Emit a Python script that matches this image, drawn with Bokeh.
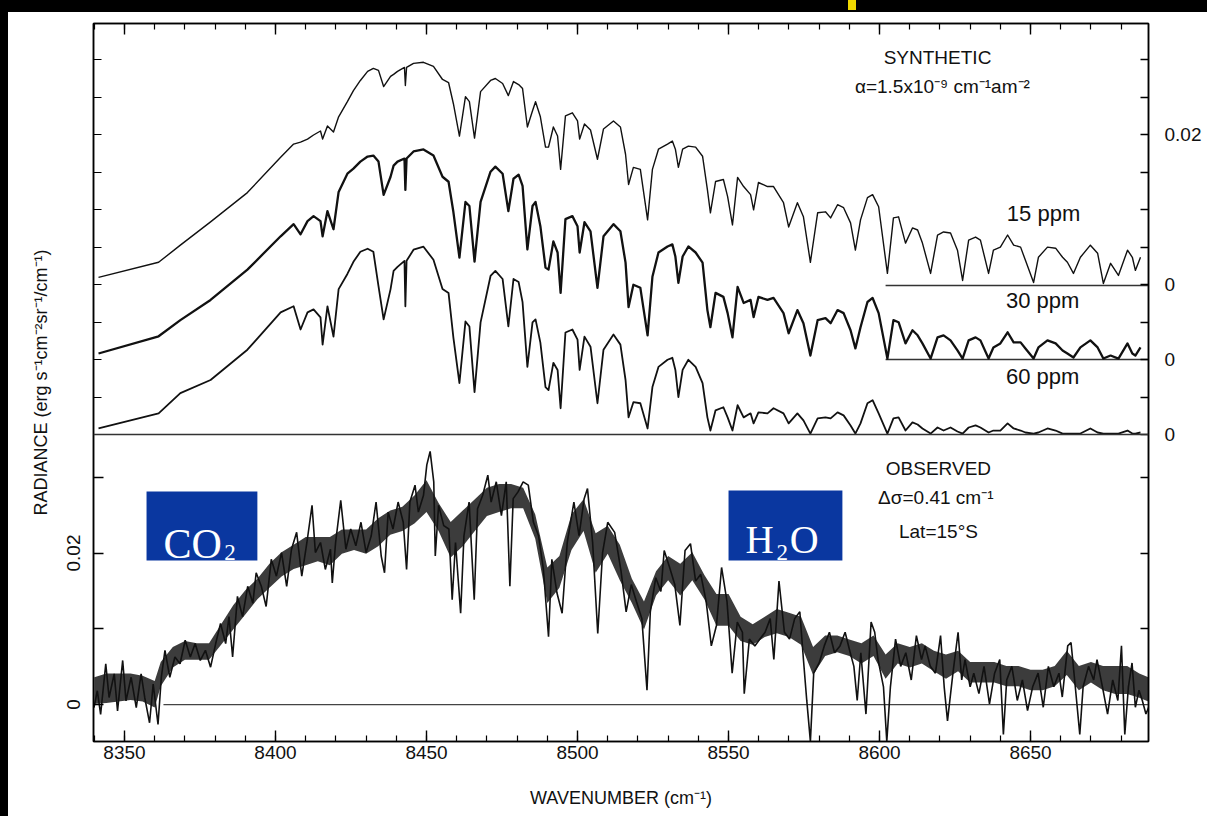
from bokeh.plotting import figure
from bokeh.models import Range1d, LinearAxis, FixedTicker, Span, Label, BoxAnnotation
from bokeh.embed import file_html
from bokeh.resources import INLINE

# ---------------- data ----------------
# wavenumber grid (cm^-1) of the three synthetic spectra
syn_wavenumber = [8341.4, 8361.3, 8368.5, 8378.5, 8390.7, 8401.7, 8406.0, 8408.3, 8410.6, 8412.6,
                  8414.9, 8415.6, 8417.2, 8419.2, 8420.9, 8423.8, 8425.8, 8428.1, 8430.5, 8432.4,
                  8434.1, 8435.8, 8438.1, 8439.1, 8440.4, 8442.7, 8443.0, 8443.4, 8445.7, 8449.0,
                  8452.3, 8455.3, 8457.3, 8458.9, 8460.9, 8462.9, 8464.2, 8465.9, 8467.9, 8471.2,
                  8472.8, 8475.2, 8477.1, 8478.8, 8480.5, 8481.8, 8483.4, 8485.1, 8486.1, 8487.7,
                  8489.4, 8490.4, 8492.0, 8493.4, 8494.4, 8496.0, 8498.3, 8500.0, 8500.7, 8502.3,
                  8504.3, 8506.6, 8508.6, 8511.9, 8514.2, 8515.9, 8516.9, 8518.5, 8520.8, 8523.2,
                  8524.8, 8526.8, 8529.8, 8531.4, 8532.4, 8533.4, 8534.8, 8536.7, 8539.1, 8541.4,
                  8543.0, 8544.0, 8545.7, 8548.3, 8549.7, 8551.3, 8553.0, 8555.0, 8557.3, 8558.3,
                  8559.9, 8562.9, 8564.9, 8568.2, 8569.9, 8572.8, 8574.8, 8577.1, 8579.5, 8582.1,
                  8583.8, 8586.1, 8588.1, 8590.4, 8592.0, 8593.7, 8596.0, 8597.7, 8599.7, 8602.6,
                  8604.6, 8606.3, 8608.6, 8610.9, 8612.6, 8614.2, 8616.9, 8619.2, 8621.2, 8623.5,
                  8625.8, 8627.5, 8629.5, 8631.8, 8633.4, 8636.1, 8637.7, 8640.0, 8642.4, 8644.4,
                  8646.7, 8648.3, 8651.0, 8652.6, 8655.6, 8658.3, 8660.6, 8662.2, 8664.2, 8666.5,
                  8669.8, 8672.2, 8674.1, 8676.5, 8679.1, 8682.1, 8683.7, 8684.7, 8686.4]

syn_15ppm = [0.00107, 0.00307, 0.00533, 0.0084, 0.01227, 0.01693, 0.01867, 0.01893, 0.01933, 0.01987,
             0.0204, 0.01933, 0.02107, 0.02027, 0.02227, 0.02427, 0.02573, 0.02707, 0.02827, 0.02867,
             0.0284, 0.02627, 0.0276, 0.02787, 0.02827, 0.0288, 0.0264, 0.0288, 0.02933, 0.02947,
             0.02893, 0.0272, 0.0268, 0.024, 0.01973, 0.02493, 0.02427, 0.01947, 0.0256, 0.02707,
             0.02733, 0.02667, 0.02507, 0.02693, 0.02653, 0.026, 0.02093, 0.02307, 0.02427, 0.02227,
             0.01827, 0.01827, 0.02093, 0.01973, 0.01533, 0.0224, 0.0228, 0.02173, 0.01933, 0.02133,
             0.02053, 0.01667, 0.02067, 0.02173, 0.02093, 0.01733, 0.01333, 0.0156, 0.01533, 0.00867,
             0.01533, 0.018, 0.01867, 0.01907, 0.018, 0.0156, 0.018, 0.0184, 0.01827, 0.01707,
             0.01267, 0.0096, 0.01373, 0.014, 0.01173, 0.008, 0.01427, 0.01307, 0.012, 0.01,
             0.0136, 0.01307, 0.01307, 0.01093, 0.00773, 0.01093, 0.00907, 0.00307, 0.0096, 0.00973,
             0.00893, 0.01067, 0.01027, 0.00827, 0.00467, 0.00867, 0.0116, 0.012, 0.0104, 0.0016,
             0.00893, 0.00907, 0.0056, 0.0076, 0.00733, 0.0056, 0.0016, 0.00667, 0.00707, 0.00693,
             0.00467, 0.00067, 0.006, 0.0064, 0.006, 0.0016, 0.00467, 0.00507, 0.00667, 0.00533,
             0.00507, 0.00333, 0.0004, 0.00373, 0.00507, 0.00493, 0.00373, 0.00307, 0.0016, 0.00373,
             0.00533, 0.00427, 0.00027, 0.00293, 0.00133, 0.00467, 0.00373, 0.002, 0.00373]

syn_30ppm = [0.0008, 0.00307, 0.0052, 0.00787, 0.01187, 0.01627, 0.01787, 0.01653, 0.01827, 0.01893,
             0.01827, 0.01627, 0.0196, 0.0172, 0.02213, 0.02453, 0.0252, 0.02613, 0.0268, 0.02693,
             0.02613, 0.02173, 0.02413, 0.0256, 0.02613, 0.02653, 0.0224, 0.02653, 0.02747, 0.02773,
             0.02693, 0.02413, 0.02347, 0.01947, 0.01347, 0.0208, 0.02027, 0.01293, 0.0208, 0.0248,
             0.02547, 0.02453, 0.0196, 0.02387, 0.0244, 0.02293, 0.01453, 0.02027, 0.0208, 0.0176,
             0.01213, 0.01187, 0.0156, 0.01413, 0.0088, 0.01853, 0.01893, 0.0176, 0.01413, 0.01813,
             0.01693, 0.00947, 0.01627, 0.01787, 0.01693, 0.0128, 0.00693, 0.00987, 0.00947, 0.0032,
             0.01093, 0.01413, 0.01493, 0.0152, 0.0136, 0.01013, 0.0136, 0.01493, 0.01413, 0.0128,
             0.00653, 0.00427, 0.0088, 0.00827, 0.00613, 0.00293, 0.0096, 0.00747, 0.00787, 0.0056,
             0.00827, 0.00787, 0.00813, 0.00613, 0.00347, 0.00653, 0.0048, 0.00053, 0.0052, 0.00547,
             0.0048, 0.00653, 0.00613, 0.00387, 0.00147, 0.00427, 0.0076, 0.00813, 0.00613, 0.00013,
             0.0052, 0.00493, 0.00213, 0.00387, 0.0032, 0.00213, 0.00013, 0.00293, 0.0032, 0.00253,
             0.0012, 0.00013, 0.00253, 0.00293, 0.00253, 0.00013, 0.0016, 0.00213, 0.0036, 0.00227,
             0.00227, 0.00147, 0.00013, 0.0016, 0.00253, 0.00213, 0.0012, 0.0008, 0.00027, 0.0016,
             0.00253, 0.0016, 0.00013, 0.00053, 0.00013, 0.00213, 0.0008, 0.00053, 0.0016]

syn_60ppm = [0.0008, 0.0028, 0.00547, 0.0072, 0.0112, 0.01613, 0.01693, 0.01387, 0.01613, 0.01653,
             0.01547, 0.01187, 0.01693, 0.01293, 0.0192, 0.0212, 0.0228, 0.02413, 0.02453, 0.02413,
             0.0196, 0.0152, 0.0192, 0.0216, 0.02213, 0.02293, 0.01693, 0.02293, 0.0244, 0.0248,
             0.02307, 0.0192, 0.01867, 0.0128, 0.0068, 0.01493, 0.01427, 0.0056, 0.0148, 0.02093,
             0.0216, 0.02053, 0.01427, 0.02053, 0.02013, 0.01747, 0.00893, 0.0148, 0.0152, 0.01213,
             0.00627, 0.00587, 0.00947, 0.00853, 0.00347, 0.01347, 0.01387, 0.01253, 0.00853, 0.01293,
             0.0116, 0.00413, 0.0112, 0.0132, 0.01187, 0.0072, 0.00227, 0.00427, 0.00413, 0.0008,
             0.00627, 0.00893, 0.00987, 0.01013, 0.00853, 0.00493, 0.00853, 0.00987, 0.00893, 0.0068,
             0.00227, 0.00053, 0.0032, 0.0036, 0.00227, 0.00053, 0.00387, 0.00227, 0.0028, 0.00147,
             0.00293, 0.0028, 0.00347, 0.0028, 0.00147, 0.0028, 0.00187, 0.00013, 0.00213, 0.00227,
             0.00213, 0.00293, 0.00253, 0.0012, 0.00013, 0.00147, 0.00413, 0.00453, 0.0028, 0.00013,
             0.00213, 0.00227, 0.00053, 0.0016, 0.00133, 0.0008, 0.00013, 0.00093, 0.00053, 0.00093,
             0.0004, 0.00013, 0.00093, 0.0012, 0.00093, 0.00027, 0.00053, 0.00053, 0.00147, 0.0008,
             0.00053, 0.00027, 0.00013, 0.00027, 0.0008, 0.00053, 0.00013, 0.00013, 0.00013, 0.00013,
             0.0008, 0.00027, 0.00013, 0.00013, 0.00013, 0.00053, 0.00013, 0.00013, 0.00027]

# observed spectrum (individual readings incl. spikes)
obs_wavenumber = [8339.9, 8341.0, 8342.1, 8343.8, 8344.9, 8346.6, 8347.7, 8349.4, 8350.5, 8352.2,
                  8353.9, 8355.5, 8356.7, 8358.3, 8359.5, 8361.1, 8362.2, 8363.4, 8365.0, 8366.7,
                  8368.4, 8370.1, 8371.8, 8373.4, 8375.1, 8376.8, 8378.5, 8380.2, 8381.8, 8383.5,
                  8384.6, 8385.8, 8387.4, 8389.1, 8390.8, 8392.5, 8393.6, 8395.3, 8396.9, 8398.6,
                  8400.3, 8402.0, 8403.7, 8405.3, 8407.0, 8408.7, 8410.4, 8412.1, 8413.2, 8414.9,
                  8416.5, 8418.2, 8418.8, 8419.9, 8421.6, 8423.3, 8424.9, 8426.6, 8428.3, 8430.0,
                  8431.7, 8433.3, 8435.0, 8436.1, 8437.3, 8438.9, 8440.6, 8442.3, 8443.4, 8444.5,
                  8446.2, 8447.3, 8449.0, 8450.1, 8451.2, 8452.4, 8452.9, 8454.0, 8455.7, 8457.4,
                  8458.5, 8459.6, 8461.3, 8462.4, 8464.1, 8465.8, 8466.9, 8468.6, 8470.3, 8471.4,
                  8473.1, 8474.8, 8476.4, 8477.6, 8478.7, 8480.3, 8482.0, 8483.7, 8485.4, 8487.1,
                  8488.7, 8490.4, 8491.5, 8493.2, 8494.9, 8496.6, 8498.8, 8500.5, 8502.2, 8503.3,
                  8505.0, 8506.7, 8508.3, 8510.0, 8512.3, 8514.4, 8516.1, 8517.8, 8519.5, 8521.3,
                  8523.0, 8524.1, 8525.9, 8527.6, 8528.7, 8530.5, 8532.2, 8533.9, 8535.6, 8537.4,
                  8539.1, 8540.8, 8542.6, 8544.3, 8546.0, 8547.7, 8549.5, 8551.2, 8552.9, 8554.6,
                  8555.2, 8556.9, 8558.7, 8560.4, 8562.1, 8563.8, 8565.0, 8566.7, 8568.5, 8570.2,
                  8571.9, 8573.6, 8574.8, 8575.9, 8577.1, 8578.2, 8580.0, 8581.7, 8583.4, 8585.1,
                  8586.9, 8588.6, 8590.3, 8591.5, 8592.6, 8593.8, 8595.5, 8597.2, 8598.4, 8599.5,
                  8601.3, 8602.4, 8603.6, 8605.3, 8607.0, 8608.7, 8610.5, 8612.2, 8613.9, 8615.1,
                  8616.8, 8618.5, 8620.2, 8621.4, 8622.5, 8624.3, 8626.0, 8627.2, 8628.3, 8630.0,
                  8631.2, 8632.9, 8634.6, 8636.4, 8638.1, 8639.8, 8641.0, 8642.1, 8643.8, 8645.6,
                  8647.3, 8649.0, 8650.7, 8652.5, 8654.2, 8655.9, 8657.7, 8659.4, 8660.5, 8662.3,
                  8663.4, 8664.6, 8666.3, 8667.4, 8669.2, 8670.9, 8672.0, 8673.8, 8675.5, 8677.2,
                  8678.9, 8680.1, 8681.2, 8682.4, 8683.6, 8684.7, 8685.9, 8687.0, 8688.2, 8689.1]

obs_radiance = [-0.00041, 0.00182, -0.0013, 0.00538, 0.00093, 0.00404, -0.00085, 0.00582, 0.00048, 0.0036,
                -0.00041, 0.00404, 0.00093, -0.00241, 0.00271, -0.00263, 0.0036, 0.00716, 0.0036, 0.00627,
                0.00538, 0.00849, 0.00627, 0.00805, 0.00582, 0.00716, 0.00493, 0.00805, 0.01072, 0.00805,
                0.01161, 0.00627, 0.01427, 0.01161, 0.01561, 0.01338, 0.01739, 0.01561, 0.01294, 0.01917,
                0.01694, 0.02006, 0.01561, 0.0205, 0.02273, 0.01694, 0.02139, 0.02629, 0.02006, 0.02139,
                0.01783, 0.0205, 0.01605, 0.02139, 0.02695, 0.0205, 0.02317, 0.02095, 0.02406, 0.02006,
                0.02228, 0.02673, 0.01961, 0.01739, 0.0254, 0.02317, 0.02673, 0.02406, 0.01783, 0.02673,
                0.02896, 0.0254, 0.02762, 0.03163, 0.03341, 0.0294, 0.01961, 0.02629, 0.02362, 0.02317,
                0.01383, 0.02139, 0.01205, 0.02228, 0.02673, 0.01383, 0.02584, 0.02762, 0.03029, 0.02673,
                0.0294, 0.02495, 0.0294, 0.01561, 0.02718, 0.02807, 0.0294, 0.02896, 0.02406, 0.02228,
                0.01783, 0.00894, 0.01917, 0.01472, 0.01205, 0.02139, 0.02673, 0.02228, 0.02718, 0.02851,
                0.02139, 0.00938, 0.02006, 0.02406, 0.02273, 0.01764, 0.01224, 0.01584, 0.01359, 0.01134,
                0.00189, 0.01224, 0.01674, 0.01494, 0.02034, 0.01809, 0.01584, 0.01044, 0.02034, 0.02124,
                0.01629, 0.01719, 0.01359, 0.00774, 0.01044, 0.01809, 0.01359, 0.00414, 0.01089, 0.00954,
                0.00144, 0.00864, 0.00774, 0.00864, 0.00954, 0.01134, 0.00594, 0.01629, 0.00954, 0.00864,
                0.01134, 0.01224, 0.00594, 0.00054, -0.00486, 0.00414, 0.00549, 0.00774, 0.00954, 0.00684,
                0.00774, 0.00954, 0.00684, 0.00504, 0.00054, 0.00684, -0.00126, 0.01089, 0.00954, 0.00594,
                0.00234, -0.00486, 0.00234, 0.00864, 0.00504, 0.00684, 0.00324, 0.00909, 0.00594, 0.00774,
                0.00504, 0.00414, 0.00909, 0.00234, -0.00216, 0.00414, 0.00954, 0.00324, 0.00594, 0.00234,
                0.00414, 0.00144, 0.00504, 0.00009, 0.00414, 0.00594, -0.00396, 0.00324, 0.00504, 0.00054,
                0.00324, -0.00081, 0.00234, 0.00414, -0.00036, 0.00504, 0.00234, 0.00414, 0.00099, 0.00774,
                0.00819, 0.00324, -0.00396, 0.00234, 0.00504, 0.00324, 0.00594, 0.00234, -0.00126, 0.00324,
                0.00054, 0.00774, -0.00396, 0.00234, 0.00549, -0.00036, 0.00189, 0.00054, -0.00126, -0.00036]

# observed spectrum: lower / upper edge of the dense noise band
obs_band_wavenumber = [8340, 8344, 8348, 8352, 8356, 8360, 8362, 8366, 8370, 8374,
                       8378, 8382, 8386, 8390, 8394, 8398, 8402, 8406, 8410, 8414,
                       8418, 8422, 8426, 8430, 8434, 8438, 8442, 8446, 8450, 8454,
                       8458, 8462, 8466, 8470, 8474, 8478, 8482, 8486, 8490, 8494,
                       8498, 8502, 8506, 8510, 8514, 8518, 8522, 8526, 8530, 8534,
                       8538, 8542, 8546, 8550, 8554, 8558, 8562, 8566, 8570, 8574,
                       8578, 8582, 8586, 8590, 8594, 8598, 8602, 8606, 8610, 8614,
                       8618, 8622, 8626, 8630, 8634, 8638, 8642, 8646, 8650, 8654,
                       8658, 8662, 8666, 8670, 8674, 8678, 8682, 8686, 8689]
obs_band_low = [0.0001, 0.0002, 0.0004, 0.0006, 0.0004, -0.0004, 0.0024, 0.0049, 0.0059, 0.0059,
                0.0059, 0.0079, 0.0099, 0.0119, 0.0139, 0.0154, 0.0169, 0.0179, 0.0184, 0.0189,
                0.0184, 0.0199, 0.0204, 0.0199, 0.0209, 0.0224, 0.0229, 0.0239, 0.0254, 0.0229,
                0.0194, 0.0209, 0.0229, 0.0249, 0.0254, 0.0259, 0.0259, 0.0219, 0.0134, 0.0154,
                0.0204, 0.0229, 0.0174, 0.0199, 0.0164, 0.0134, 0.0099, 0.0144, 0.0164, 0.0144,
                0.0164, 0.0139, 0.0104, 0.0104, 0.0084, 0.0079, 0.0089, 0.0094, 0.0089, 0.0079,
                0.0039, 0.0064, 0.0069, 0.0064, 0.0054, 0.0064, 0.0034, 0.0054, 0.0049, 0.0054,
                0.0044, 0.0034, 0.0044, 0.0029, 0.0029, 0.0029, 0.0024, 0.0024, 0.0019, 0.0019,
                0.0024, 0.0039, 0.0019, 0.0029, 0.0019, 0.0014, 0.0014, 0.0009, 0.0004]
obs_band_high = [0.0036, 0.0041, 0.0041, 0.0041, 0.0038, 0.0031, 0.0056, 0.0076, 0.0084, 0.0081,
                 0.0081, 0.0106, 0.0131, 0.0151, 0.0166, 0.0186, 0.0201, 0.0211, 0.0221, 0.0221,
                 0.0221, 0.0231, 0.0231, 0.0231, 0.0246, 0.0256, 0.0261, 0.0276, 0.0296, 0.0266,
                 0.0241, 0.0256, 0.0271, 0.0286, 0.0291, 0.0291, 0.0286, 0.0251, 0.0181, 0.0196,
                 0.0251, 0.0271, 0.0226, 0.0236, 0.0211, 0.0166, 0.0136, 0.0176, 0.0196, 0.0186,
                 0.0201, 0.0171, 0.0146, 0.0146, 0.0116, 0.0106, 0.0116, 0.0126, 0.0121, 0.0116,
                 0.0076, 0.0091, 0.0091, 0.0086, 0.0081, 0.0091, 0.0066, 0.0081, 0.0076, 0.0081,
                 0.0071, 0.0066, 0.0071, 0.0056, 0.0056, 0.0056, 0.0051, 0.0051, 0.0046, 0.0046,
                 0.0051, 0.0071, 0.0051, 0.0056, 0.0051, 0.0051, 0.0051, 0.0041, 0.0036]

x_tick_values = [8350, 8400, 8450, 8500, 8550, 8600, 8650]
x_minor_values = list(range(8340, 8690, 10))
left_tick_labels = {0.0: "0", 0.01: "", 0.02: "0.02", 0.03: ""}

# ---------------- layout constants ----------------
X0, X1 = 8339.74, 8689.05
Y0, Y1 = -0.00488, 0.0899
BASE_60, BASE_30, BASE_15 = 0.03564, 0.04554, 0.05531   # zero levels of the synthetic curves
UPPER_STEP = 0.00495
SYN_ZERO_LINE_START = 8602.0
OBS_ZERO_LINE_START = 8362.9

FONT = "Liberation Sans"
INK = "#111111"

p = figure(width=1207, height=816, output_backend="svg", toolbar_location=None,
           x_range=Range1d(X0, X1), y_range=Range1d(Y0, Y1),
           min_border_left=93, min_border_right=59, min_border_top=23, min_border_bottom=75,
           background_fill_color="white", border_fill_color="white")
p.grid.visible = False
p.outline_line_color = "black"
p.outline_line_width = 1.5


def style_axis(ax, label_size="19px"):
    ax.major_tick_out = 0
    ax.minor_tick_out = 0
    ax.axis_line_color = "black"
    ax.axis_line_width = 1.5
    ax.major_tick_line_width = 1.4
    ax.minor_tick_line_width = 1.2
    ax.major_tick_line_color = "black"
    ax.minor_tick_line_color = "black"
    ax.major_label_text_font = FONT
    ax.major_label_text_font_size = label_size
    ax.major_label_text_color = INK
    ax.axis_label_text_font = FONT
    ax.axis_label_text_font_style = "normal"
    ax.axis_label_text_color = INK


# bottom axis
xa = p.xaxis[0]
xa.ticker = FixedTicker(ticks=x_tick_values, minor_ticks=x_minor_values)
style_axis(xa)
xa.major_tick_in = 11
xa.minor_tick_in = 6
xa.major_label_standoff = 4
xa.axis_label = "WAVENUMBER (cm\u207b\u00b9)"
xa.axis_label_text_font_size = "18px"
xa.axis_label_standoff = 26

# top axis (ticks only)
ta = LinearAxis(ticker=FixedTicker(ticks=x_tick_values, minor_ticks=x_minor_values))
style_axis(ta, "0px")
ta.major_tick_in = 11
ta.minor_tick_in = 6
ta.major_label_standoff = 0
ta.major_label_overrides = {v: "" for v in x_tick_values}
p.add_layout(ta, "above")

# left axis
upper_ticks = [BASE_60 + k * UPPER_STEP for k in range(1, 12) if BASE_60 + k * UPPER_STEP < Y1]
ya = p.yaxis[0]
ya.ticker = FixedTicker(ticks=list(left_tick_labels.keys()), minor_ticks=upper_ticks)
style_axis(ya)
ya.major_tick_in = 10
ya.minor_tick_in = 8
ya.major_label_overrides = left_tick_labels
ya.major_label_orientation = "vertical"
ya.major_label_standoff = 13
ya.axis_label = "RADIANCE (erg s\u207b\u00b9cm\u207b\u00b2sr\u207b\u00b9/cm\u207b\u00b9)"
ya.axis_label_text_font_size = "18px"
ya.axis_label_standoff = 14

# right axis
right_ticks = [0.01, 0.02, 0.03] + [BASE_60 + k * UPPER_STEP for k in range(0, 12) if BASE_60 + k * UPPER_STEP < Y1]
right_labels = {t: "" for t in right_ticks}
for k, txt in [(0, "0"), (2, "0"), (4, "0"), (8, "0.02")]:
    right_labels[right_ticks[3 + k]] = txt
ra = LinearAxis(ticker=FixedTicker(ticks=right_ticks))
style_axis(ra)
ra.major_tick_in = 8
ra.major_label_overrides = right_labels
ra.major_label_standoff = 16
p.add_layout(ra, "right")

# panel divider / zero lines
p.add_layout(Span(location=BASE_60, dimension="width", line_color="#333333", line_width=1.6))
p.segment(x0=[SYN_ZERO_LINE_START, SYN_ZERO_LINE_START], y0=[BASE_15, BASE_30],
          x1=[X1, X1], y1=[BASE_15, BASE_30], line_color="#333333", line_width=1.6)
p.segment(x0=[OBS_ZERO_LINE_START], y0=[0], x1=[X1], y1=[0], line_color="#444444", line_width=1.2)

# synthetic spectra
p.line(syn_wavenumber, [BASE_15 + v for v in syn_15ppm], line_color=INK, line_width=1.4, line_join="round")
p.line(syn_wavenumber, [BASE_30 + v for v in syn_30ppm], line_color=INK, line_width=2.3, line_join="round")
p.line(syn_wavenumber, [BASE_60 + v for v in syn_60ppm], line_color=INK, line_width=1.8, line_join="round")

# observed spectrum: dense noise band + individual spikes
p.varea(x=obs_band_wavenumber, y1=obs_band_low, y2=obs_band_high, fill_color="#111111", fill_alpha=0.82)
p.line(obs_wavenumber, obs_radiance, line_color=INK, line_width=1.6)

# blue species boxes
BLUE = "#0a37a0"
p.add_layout(BoxAnnotation(left=8357.3, right=8394.0, bottom=0.01901, top=0.02812,
                           fill_color=BLUE, fill_alpha=1.0, line_color=None))
p.add_layout(BoxAnnotation(left=8550.0, right=8587.7, bottom=0.01901, top=0.02825,
                           fill_color=BLUE, fill_alpha=1.0, line_color=None))
SERIF = "Liberation Serif"
for x, y, txt, size in [(8362.9, 0.02125, "CO", "42px"), (8383.0, 0.02007, "2", "23px"),
                        (8555.6, 0.02178, "H", "39px"), (8565.9, 0.02007, "2", "23px"),
                        (8570.3, 0.02178, "O", "40px")]:
    p.add_layout(Label(x=x, y=y, text=txt, text_font=SERIF, text_font_size=size,
                       text_color="white", text_align="left", text_baseline="alphabetic"))

# annotations
for x, y, txt, size in [(8619.2, 0.08541, "SYNTHETIC", "19px"),
                        (8620.8, 0.08158, "\u03b1=1.5x10\u207b\u2079 cm\u207b\u00b9am\u207b\u00b2", "19px"),
                        (8654.3, 0.06482, "15 ppm", "22px"),
                        (8654.0, 0.05333, "30 ppm", "22px"),
                        (8654.0, 0.04330, "60 ppm", "22px"),
                        (8619.5, 0.03116, "OBSERVED", "19px"),
                        (8619.5, 0.02733, "\u0394\u03c3=0.41  cm\u207b\u00b9", "19px"),
                        (8619.5, 0.02284, "Lat=15\u00b0S", "19px")]:
    p.add_layout(Label(x=x, y=y, text=txt, text_font=FONT, text_font_size=size,
                       text_color=INK, text_align="center", text_baseline="middle"))

html = file_html(p, INLINE, title="Radiance spectra")
page_css = """<style>
html, body { margin: 0; padding: 0; background: #ffffff; }
body::before { content: ""; position: fixed; left: 0; top: 0; width: 100%; height: 12px; background: #000000; z-index: 9999; }
body::after { content: ""; position: fixed; left: 0; top: 0; width: 8px; height: 100%; background: #000000; z-index: 9999; }
html::after { content: ""; position: fixed; left: 848px; top: 0; width: 8px; height: 10px; background: #f0d800; z-index: 10000; }
</style>
"""
html = html.replace("</head>", page_css + "</head>", 1)
open("out.html", "w").write(html)
